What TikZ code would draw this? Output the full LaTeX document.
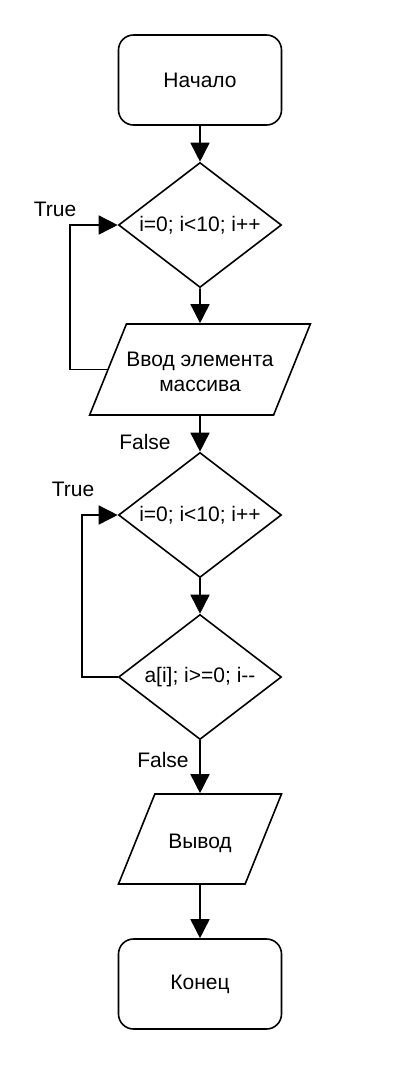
\documentclass[tikz,border=0pt]{standalone}
\usepackage{fontspec}
\setmainfont{Liberation Sans}
\usetikzlibrary{shapes.geometric, arrows.meta, positioning}

\begin{document}
\begin{tikzpicture}[
    x=1pt, y=1pt,
    font=\fontsize{21}{25}\selectfont,
    >={Triangle[width=19pt, length=19pt]},
    term/.style={draw, rounded corners=15pt, minimum width=163pt, minimum height=90pt, line width=1.6pt, align=center},
    cond/.style={draw, diamond, shape aspect=1.3, minimum width=163pt, minimum height=125pt, inner sep=0pt, line width=1.6pt},
    io/.style={draw, trapezium, trapezium left angle=68, trapezium right angle=112, trapezium stretches body=true, inner sep=0pt, align=center, line width=1.6pt},
    arrow/.style={->, line width=1.6pt},
    lbl/.style={inner sep=0pt}
]
\useasboundingbox (0,0) rectangle (400,-1080);

% === FIRST LOOP: input ===
\node[term] (start) at (200,-80) {Начало};
\node[cond] (loopA) at (200,-225) {i=0; i<10; i++};
\node[io, minimum width=216pt, text height=67pt, text depth=24pt] (input) at (200,-369.5) {Ввод элемента\\массива};

% === SECOND LOOP: output ===
\node[cond] (loopB) at (200,-515) {i=0; i<10; i++};
\node[cond] (loopC) at (200,-677) {a[i]; i>=0; i{-}{-}};
\node[io, minimum width=163pt, text height=54pt, text depth=36pt] (output) at (200,-839) {Вывод};
\node[term] (finish) at (200,-984) {Конец};

% === ARROWS ===
\draw[arrow] (start) -- (loopA);
\draw[arrow] (loopA) -- (input);
\draw[arrow] (input) -- (loopB);
\draw[arrow] (loopB) -- (loopC);
\draw[arrow] (loopC) -- (output);
\draw[arrow] (output) -- (finish);

% back edges
\draw[arrow] (input.west) -- ++(-37,0) |- (loopA.west);
\draw[arrow] (loopC.west) -- ++(-36,0) |- (loopB.west);

% === LABELS ===
\node[lbl] (trueA) at (55,-209) {True};
\node[lbl] (falseA) at (145,-442) {False};
\node[lbl] (trueB) at (73,-489) {True};
\node[lbl] (falseB) at (163,-760) {False};

\end{tikzpicture}
\end{document}
